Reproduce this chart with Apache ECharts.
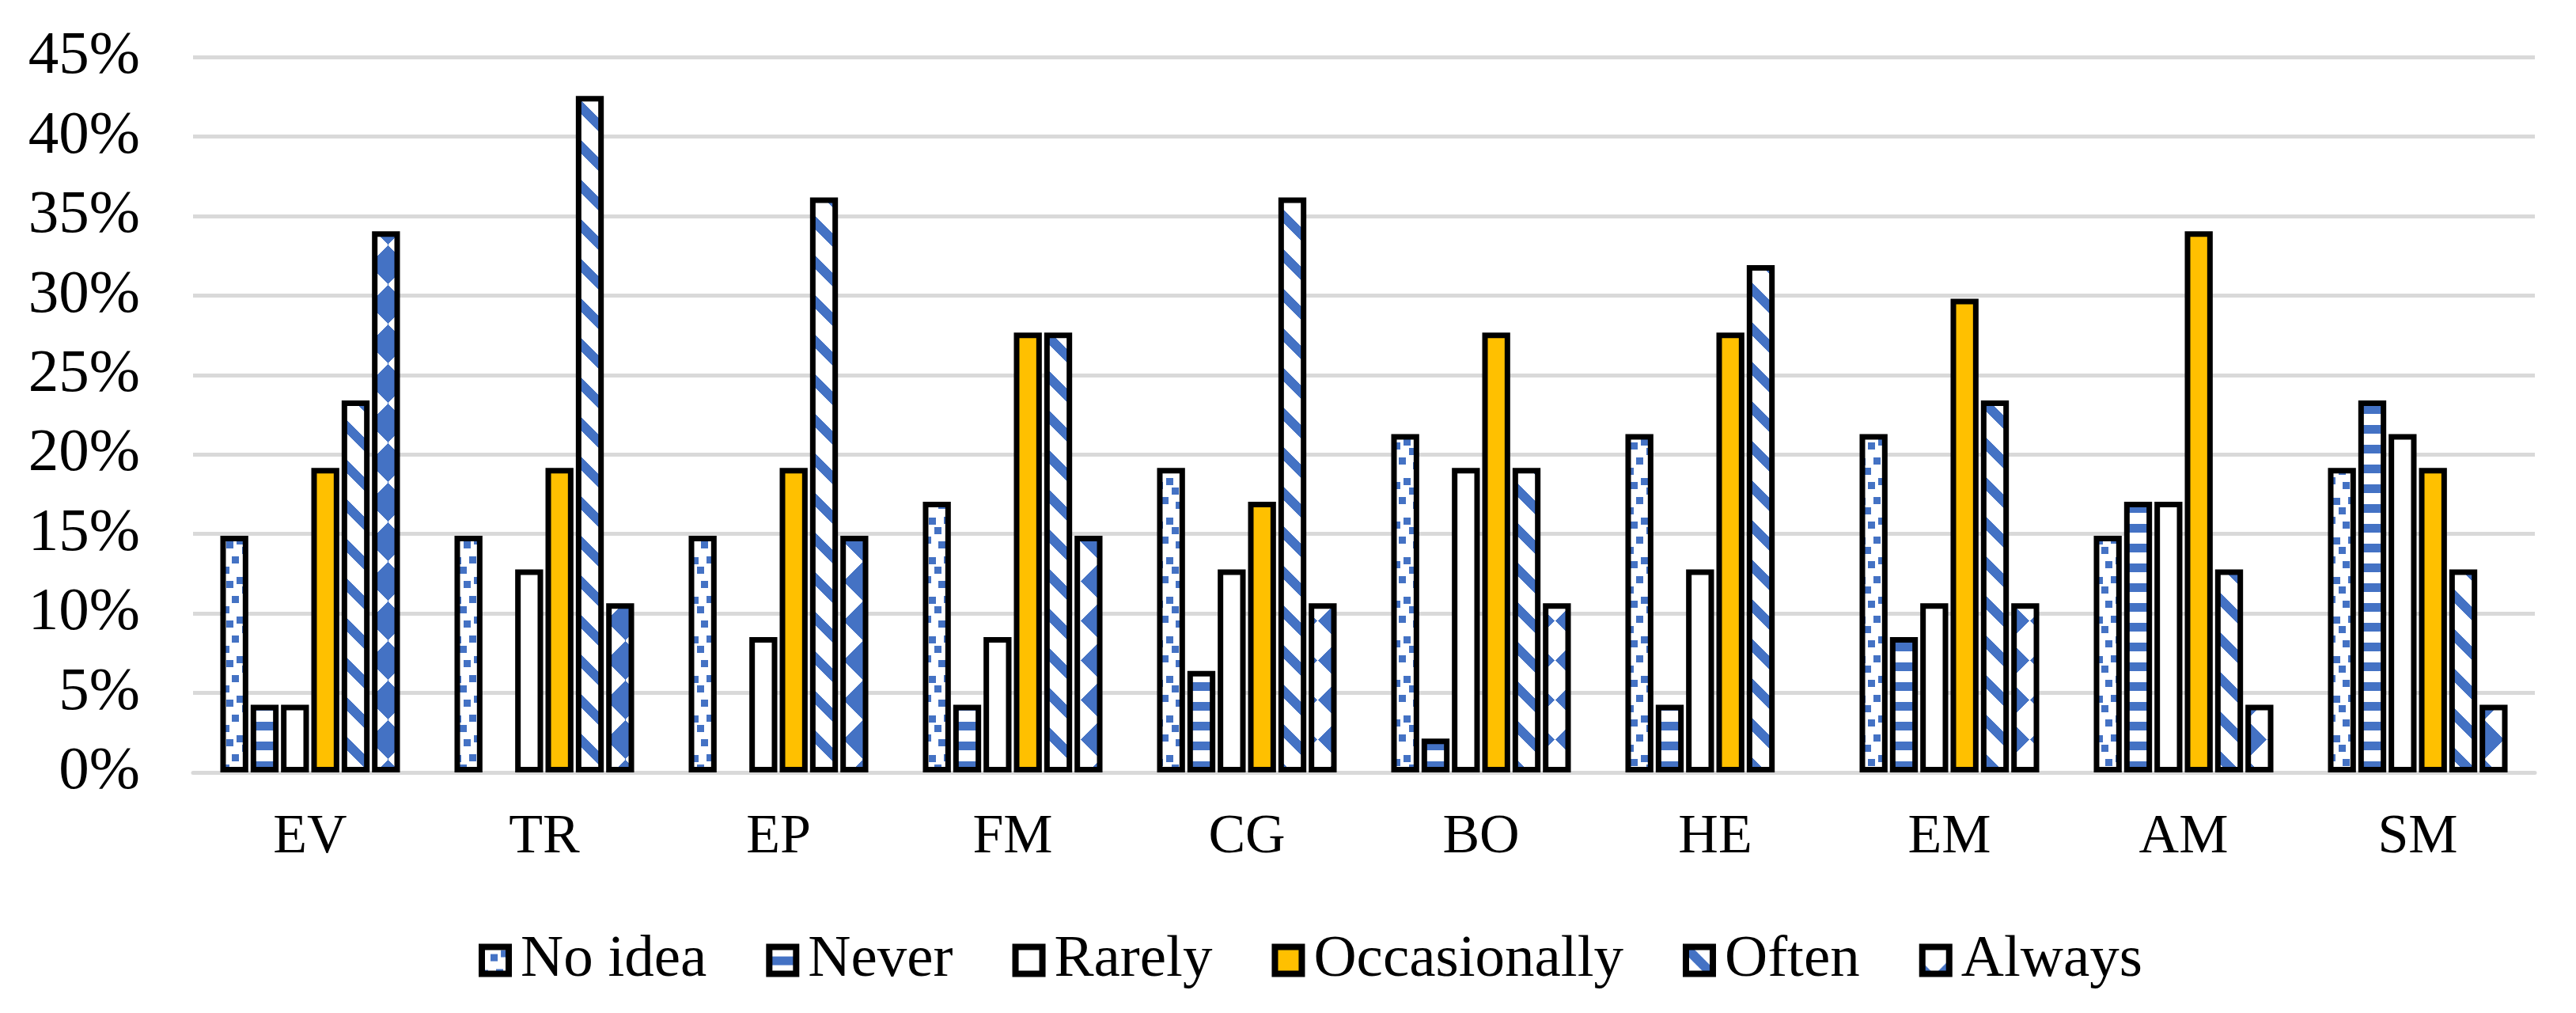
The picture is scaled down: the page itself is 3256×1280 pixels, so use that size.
<!DOCTYPE html>
<html><head><meta charset="utf-8">
<script src="https://cdn.jsdelivr.net/npm/echarts@6/dist/echarts.min.js"></script>
<style>html,body{margin:0;padding:0;background:#fff;overflow:hidden}#c{width:3256px;height:1280px}</style>
</head><body><div id="c"></div>
<script>
const categories = ['EV','TR','EP','FM','CG','BO','HE','EM','AM','SM'];
const seriesNames = ['No idea','Never','Rarely','Occasionally','Often','Always'];
const noIdea       = [14.89,14.89,14.89,17.02,19.15,21.28,21.28,21.28,14.89,19.15];
const never        = [4.26, 0,    0,    4.26, 6.38, 2.13, 4.26, 8.51, 17.02,23.40];
const rarely       = [4.26, 12.77,8.51, 8.51, 12.77,19.15,12.77,10.64,17.02,21.28];
const occasionally = [19.15,19.15,19.15,27.66,17.02,27.66,27.66,29.79,34.04,19.15];
const often        = [23.40,42.55,36.17,27.66,36.17,19.15,31.91,23.40,12.77,12.77];
const always       = [34.04,10.64,14.89,14.89,10.64,10.64,0,    10.64,4.26, 4.26];
const yMin = 0, yMax = 45, yStep = 5;

const FONT = "'Liberation Serif','Times New Roman',serif";

function wrap(v){ return ((v + 25) % 50 + 50) % 50 - 25; }
function makeTile(pred){
  const c = document.createElement('canvas'); c.width = 50; c.height = 50;
  const ctx = c.getContext('2d');
  const img = ctx.createImageData(50, 50);
  for (let y = 0; y < 50; y++) for (let x = 0; x < 50; x++) {
    const i = (y * 50 + x) * 4, b = pred(x, y);
    img.data[i] = b ? 68 : 255; img.data[i+1] = b ? 114 : 255; img.data[i+2] = b ? 196 : 255; img.data[i+3] = 255;
  }
  ctx.putImageData(img, 0, 0);
  return c;
}
const sq = [[40,38],[3,33],[47,7],[35,20],[15,13],[28,8],[22,32],[10,45]];
const tileNoIdea = makeTile((x,y) => sq.some(([cx,cy]) => Math.abs(wrap(x-cx)) < 5 && Math.abs(wrap(y-cy)) < 5));
const tileNever = makeTile((x,y) => (y % 25) >= 12 && (y % 25) < 23);
const tileOften = makeTile((x,y) => { const d = ((y - x) % 50 + 50) % 50; return d >= 43 || d < 10; });
const tileAlways = makeTile((x,y) => Math.abs(wrap(x-40))/24 + Math.abs(wrap(y-34))/25 <= 1);

const fills = [
  {image: tileNoIdea, repeat: 'repeat'},
  {image: tileNever, repeat: 'repeat'},
  '#FFFFFF',
  '#FFC000',
  {image: tileOften, repeat: 'repeat'},
  {image: tileAlways, repeat: 'repeat'}
];
const values = [noIdea, never, rarely, occasionally, often, always];

const chart = echarts.init(document.getElementById('c'), null, {renderer: 'canvas'});
chart.setOption({
  animation: false,
  backgroundColor: '#fff',
  grid: {left: 244, right: 52, top: 72, bottom: 304, containLabel: false},
  legend: {
    data: seriesNames,
    top: 1171, left: 600,
    icon: 'rect', itemWidth: 34, itemHeight: 34, itemGap: 75,
    itemStyle: {borderWidth: 8, borderColor: '#000'},
    textStyle: {fontFamily: FONT, fontSize: 75, color: '#000', padding: [0,0,0,10]}
  },
  xAxis: {
    type: 'category', data: categories,
    axisTick: {show: false},
    axisLine: {show: true, lineStyle: {color: '#D9D9D9', width: 5}},
    axisLabel: {fontFamily: FONT, fontSize: 70, color: '#000', margin: 48}
  },
  yAxis: {
    type: 'value', min: yMin, max: yMax, interval: yStep,
    axisLine: {show: false}, axisTick: {show: false},
    axisLabel: {fontFamily: FONT, fontSize: 77, color: '#000', margin: 67, formatter: '{value}%'},
    splitLine: {lineStyle: {color: '#D9D9D9', width: 5}}
  },
  series: seriesNames.map((n, k) => ({
    name: n, type: 'bar',
    barGap: '8.5%', barCategoryGap: '23.3%',
    data: values[k].map(v => v === 0 ? '-' : v),
    itemStyle: {color: fills[k], borderColor: '#000', borderWidth: 7}
  }))
});
</script></body></html>
